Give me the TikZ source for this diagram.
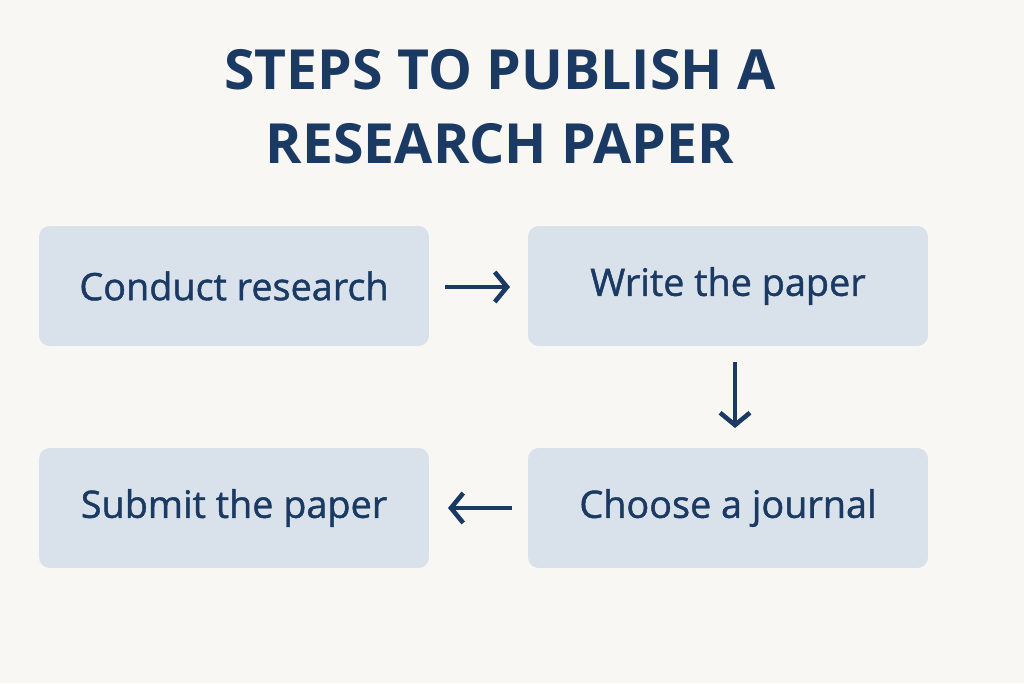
\documentclass[tikz,border=0pt]{standalone}
\usepackage{fontspec}
\setmainfont{Open Sans}
\newfontfamily\boxfont[FakeBold=1.2]{Open Sans}
\usetikzlibrary{positioning,arrows.meta}
\definecolor{bgcol}{HTML}{F9F7F3}
\definecolor{boxcol}{HTML}{D9E2EA}
\definecolor{inkcol}{HTML}{1B3A63}
\tikzset{
  stepbox/.style={fill=boxcol, rounded corners=6pt, minimum width=7.8cm,
    minimum height=2.4cm, text=inkcol, font=\boxfont\fontsize{21.5}{24}\selectfont},
  flow/.style={draw=inkcol, line width=2.6pt, -{Straight Barb[length=7pt,width=17pt]}},
}
\begin{document}
\begin{tikzpicture}[x=0.02cm,y=-0.02cm]
  \fill[bgcol] (0,0) rectangle (1024,683);
  \useasboundingbox (0,0) rectangle (1024,683);
  % title
  \node[text=inkcol, font=\fontsize{31.5}{42}\bfseries\selectfont, align=center] (title) at (500,107)
    {STEPS TO PUBLISH A\\RESEARCH PAPER};
  % boxes
  \node[stepbox] (research) at (234,286) {Conduct research};
  \node[stepbox, minimum width=8cm] (write) at (728,286) {Write the paper};
  \node[stepbox, minimum width=8cm] (journal) at (728,508) {Choose a journal};
  \node[stepbox] (submit) at (234,508) {Submit the paper};
  % arrow ends
  \coordinate (a1) at (445,287); \coordinate (a2) at (510,287);
  \coordinate (b1) at (735,362); \coordinate (b2) at (735,428);
  \coordinate (c1) at (512,508); \coordinate (c2) at (448,508);
  % arrows
  \draw[flow] (a1) -- (a2);
  \draw[flow] (b1) -- (b2);
  \draw[flow] (c1) -- (c2);
\end{tikzpicture}
\end{document}
